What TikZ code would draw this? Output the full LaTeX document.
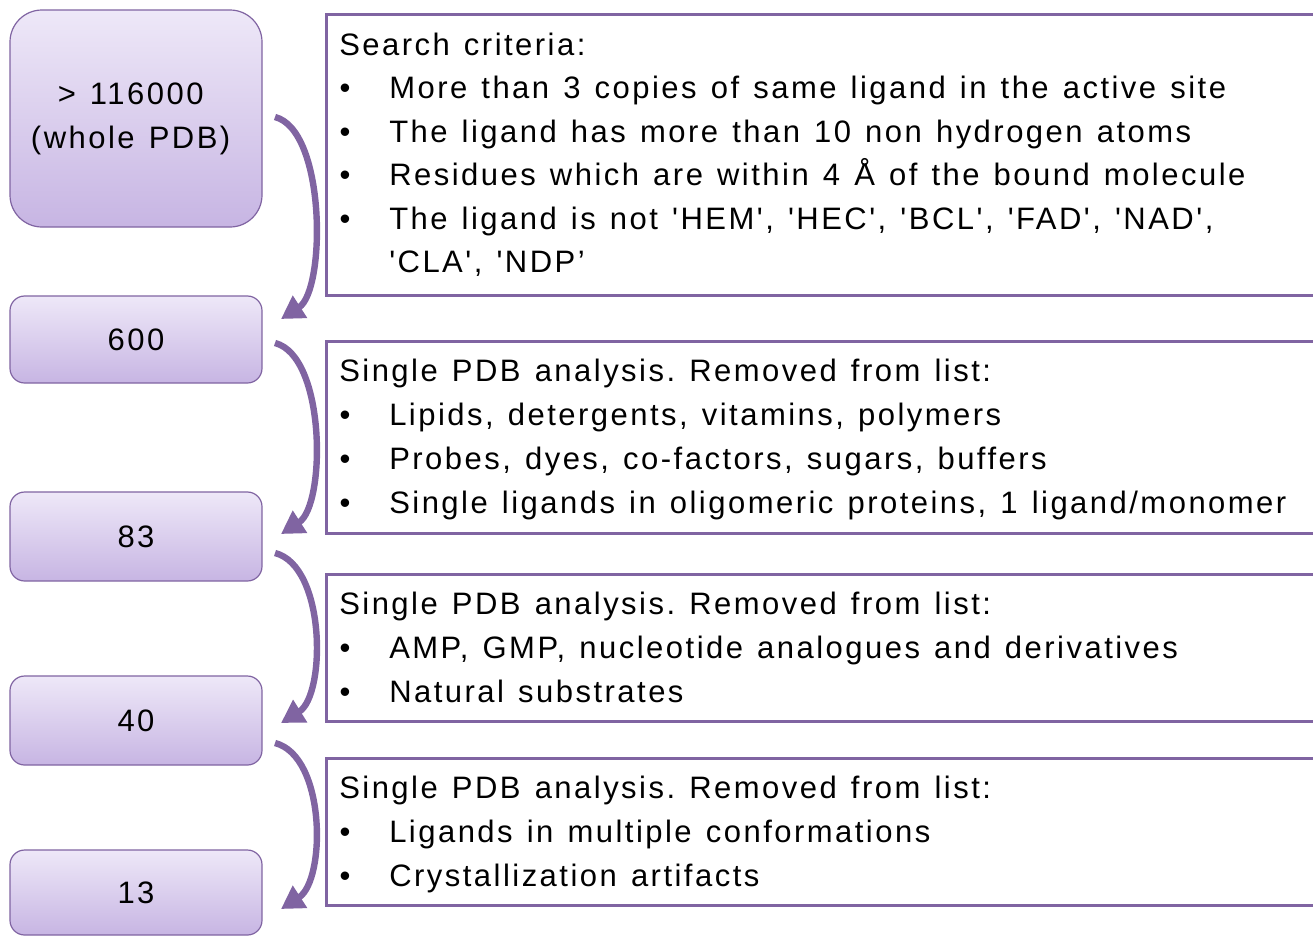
\documentclass[tikz,border=0pt]{standalone}
\usepackage{fontspec}
\setmainfont[Ligatures=TeXOff,LetterSpace=8]{Liberation Sans}
\usetikzlibrary{arrows.meta}
\definecolor{vio}{RGB}{128,100,162}
\definecolor{ltop}{RGB}{238,232,248}
\definecolor{lbot}{RGB}{199,181,227}
\newcommand{\bigfs}{\fontsize{23.25}{33}\selectfont\frenchspacing\spaceskip=10.6pt\relax}
\begin{document}
\begin{tikzpicture}[x=0.75pt,y=-0.75pt,
  lbox/.style={draw=vio,line width=0.9pt,top color=ltop,bottom color=lbot,
    minimum width=189pt,inner sep=0pt,align=center,font=\bigfs},
  rbox/.style={draw=vio,line width=2.2pt,anchor=north west,minimum width=765pt,inner sep=0pt},
  txt/.style={anchor=base west,inner sep=0pt,font=\bigfs},
  bul/.style={anchor=base,inner sep=0pt,font=\bigfs},
  flow/.style={draw=vio,line width=4.8pt,-{Triangle[length=17pt,width=19pt]}}]
\useasboundingbox (0,0) rectangle (1313,936);

% left boxes
\node[lbox,minimum height=162.75pt,rounded corners=24pt] (A) at (136,118.5) {> 116000\kern8pt\\(whole PDB)\kern8pt};
\node[lbox,minimum height=65.25pt,rounded corners=11pt] (B) at (136,339.5) {600};
\node[lbox,minimum height=66.75pt,rounded corners=11pt] (C) at (136,536.5) {83};
\node[lbox,minimum height=66.75pt,rounded corners=11pt] (D) at (136,720.5) {40};
\node[lbox,minimum height=63.75pt,rounded corners=11pt] (E) at (136,892.5) {13};

% right boxes
\node[rbox,minimum height=210.75pt] (R1) at (325,13) {};
\node[rbox,minimum height=144pt] (R2) at (325,340) {};
\node[rbox,minimum height=110.25pt] (R3) at (325,573) {};
\node[rbox,minimum height=110.25pt] (R4) at (325,757) {};

% box 1 text
\node[txt] (h1) at (339,55) {Search criteria:};
\node[bul] (b11) at (345,98.5) {•};
\node[txt] (i11) at (389,98.5) {More than 3 copies of same ligand in the active site};
\node[bul] (b12) at (345,142) {•};
\node[txt] (i12) at (389,142) {The ligand has more than 10 non hydrogen atoms};
\node[bul] (b13) at (345,185.5) {•};
\node[txt] (i13) at (389,185.5) {Residues which are within 4 Å of the bound molecule};
\node[bul] (b14) at (345,229) {•};
\node[txt] (i14) at (389,229) {The ligand is not 'HEM', 'HEC', 'BCL', 'FAD', 'NAD',};
\node[txt] (i15) at (389,272.5) {'CLA', 'NDP’};

% box 2 text
\node[txt] (h2) at (339,381) {Single PDB analysis. Removed from list:};
\node[bul] (b21) at (345,425) {•};
\node[txt] (i21) at (389,425) {Lipids, detergents, vitamins, polymers};
\node[bul] (b22) at (345,469) {•};
\node[txt] (i22) at (389,469) {Probes, dyes, co-factors, sugars, buffers};
\node[bul] (b23) at (345,513) {•};
\node[txt] (i23) at (389,513) {Single ligands in oligomeric proteins, 1 ligand/monomer};

% box 3 text
\node[txt] (h3) at (339,614) {Single PDB analysis. Removed from list:};
\node[bul] (b31) at (345,658) {•};
\node[txt] (i31) at (389,658) {AMP, GMP, nucleotide analogues and derivatives};
\node[bul] (b32) at (345,702) {•};
\node[txt] (i32) at (389,702) {Natural substrates};

% box 4 text
\node[txt] (h4) at (339,798) {Single PDB analysis. Removed from list:};
\node[bul] (b41) at (345,842) {•};
\node[txt] (i41) at (389,842) {Ligands in multiple conformations};
\node[bul] (b42) at (345,886) {•};
\node[txt] (i42) at (389,886) {Crystallization artifacts};

% arrows
\coordinate (s1) at (275,117); \coordinate (e1) at (281,319);
\coordinate (s2) at (275,343); \coordinate (e2) at (281,534);
\coordinate (s3) at (275,553); \coordinate (e3) at (281,723);
\coordinate (s4) at (275,743); \coordinate (e4) at (281,909);
\draw[flow] (s1) .. controls (326,130) and (326,290) .. (e1);
\draw[flow] (s2) .. controls (326,356) and (326,505) .. (e2);
\draw[flow] (s3) .. controls (326,566) and (326,695) .. (e3);
\draw[flow] (s4) .. controls (326,756) and (326,880) .. (e4);
\end{tikzpicture}
\end{document}
